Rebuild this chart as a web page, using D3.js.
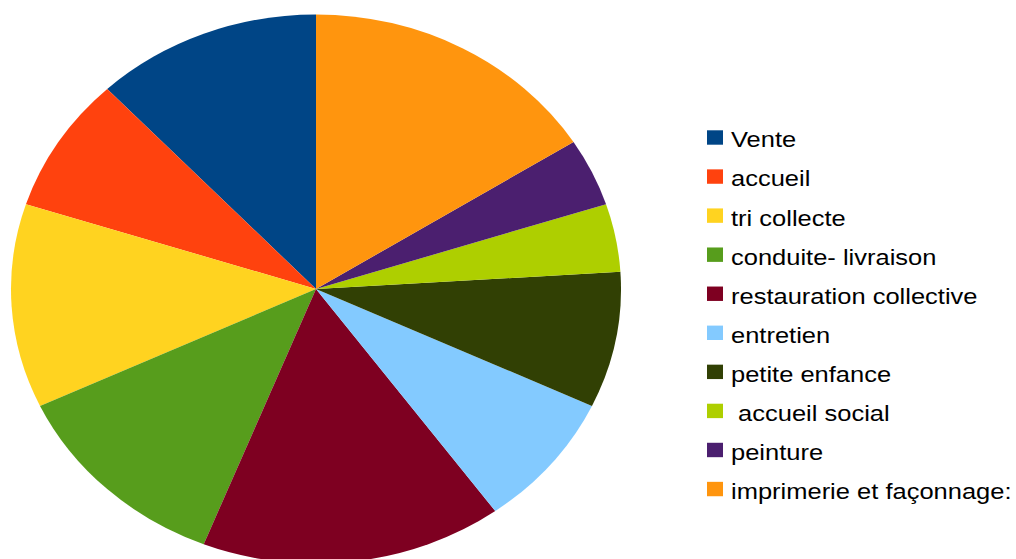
<!DOCTYPE html>
<html>
<head>
<meta charset="utf-8">
<script src="https://cdn.jsdelivr.net/npm/d3@7"></script>
<style>
  html, body { margin: 0; padding: 0; background: #fff; }
  svg { display: block; }
</style>
</head>
<body>
<svg id="chart" width="1016" height="559"></svg>
<script>
// Job categories and their counts
const categories = [
  "Vente", "accueil", "tri collecte", "conduite- livraison",
  "restauration collective", "entretien", "petite enfance",
  " accueil social", "peinture", "imprimerie et façonnage:"
];
const values = [3, 2, 3, 3, 4, 2, 2, 1, 1, 4];
const colors = [
  "#004586", "#ff420e", "#ffd320", "#579d1c", "#7e0021",
  "#83caff", "#314004", "#aecf00", "#4b1f6f", "#ff950e"
];

const data = categories.map((c, i) => ({ name: c, value: values[i], color: colors[i] }));

const width = 1016, height = 559;
const sy = 0.9;            // vertical compression of the whole drawing
const cx = 316, cy = 289 / sy, r = 305;

const svg = d3.select("#chart");
const root = svg.append("g").attr("transform", `scale(1,${sy})`);

// Pie runs counter-clockwise from 12 o'clock
const pie = d3.pie().value(d => d.value).sort(null).startAngle(0).endAngle(-2 * Math.PI);
const arc = d3.arc().innerRadius(0).outerRadius(r);

root.append("g")
  .attr("transform", `translate(${cx},${cy})`)
  .selectAll("path")
  .data(pie(data))
  .join("path")
  .attr("d", arc)
  .attr("fill", d => d.data.color);

// Legend
const rowY = d3.scalePoint()
  .domain(categories)
  .range([137.5 / sy, (137.5 + 9 * 39.06) / sy]);

const legend = root.append("g");
const rows = legend.selectAll("g")
  .data(data)
  .join("g")
  .attr("transform", d => `translate(0,${rowY(d.name)})`);

rows.append("rect")
  .attr("x", 707)
  .attr("y", -8)
  .attr("width", 16)
  .attr("height", 16)
  .attr("fill", d => d.color);

rows.append("text")
  .attr("x", 731)
  .attr("y", 11)
  .attr("font-family", "'Liberation Sans', Arial, sans-serif")
  .attr("font-size", 25.5)
  .attr("fill", "#000")
  .style("white-space", "pre")
  .text(d => d.name);
</script>
</body>
</html>
